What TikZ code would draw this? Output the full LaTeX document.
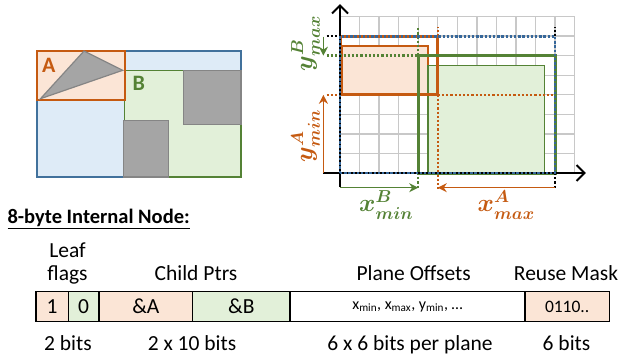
\documentclass[tikz,border=0pt]{standalone}
\usepackage{fontspec}
\setmainfont{Carlito}
\usetikzlibrary{arrows.meta}
\definecolor{ofill}{HTML}{FBE5D6}
\definecolor{oline}{HTML}{C55A11}
\definecolor{gfill}{HTML}{E2F0D9}
\definecolor{gline}{HTML}{548235}
\definecolor{bfill}{HTML}{DEEBF7}
\definecolor{bline}{HTML}{41719C}
\definecolor{bdot}{HTML}{36679A}
\definecolor{gryfill}{HTML}{A5A5A5}
\definecolor{gryline}{HTML}{858585}
\definecolor{gridc}{HTML}{C8C8C8}
\newcommand\fsz[1]{\fontsize{#1}{#1}\selectfont}
\tikzset{
  cell/.style={draw=black, line width=1.3pt, minimum height=30pt, inner sep=0pt, outer sep=0pt, anchor=north west, font=\fsz{21.5}},
  lbl/.style={anchor=base, inner sep=0pt, font=\fsz{21.5}},
  mlbl/.style={inner sep=0pt, font=\fsz{23}\boldmath},
  dotl/.style={line width=2.5pt, dash pattern=on 2.2pt off 2pt},
  carrow/.style={line width=1.6pt, -{Stealth[length=9pt,width=9pt]}},
  axis/.style={line width=2pt, -{Straight Barb[length=8pt,width=16pt,line width=2pt]}}
}
\begin{document}
\begin{tikzpicture}[x=1pt,y=-1pt]
\useasboundingbox (0,0) rectangle (620,358);
% ---------- left panel ----------
\filldraw[fill=bfill, draw=bline, line width=1.4pt] (37,51) rectangle (241,177);
\filldraw[fill=gfill, draw=gline, line width=1.4pt] (124.7,70.7) rectangle (241,177);
\filldraw[fill=gryfill, draw=gryline, line width=1.4pt] (183.3,70.7) rectangle (241,124.3);
\filldraw[fill=gryfill, draw=gryline, line width=1.4pt] (123.5,120.3) rectangle (168.7,177);
\filldraw[fill=ofill, draw=oline, line width=2.2pt] (37,51) rectangle (124.7,99.7);
\filldraw[fill=gryfill, draw=gryline, line width=1.2pt] (84,51) -- (122.7,70.3) -- (40.5,98.7) -- cycle;
\node[inner sep=0pt, font=\fsz{22}\bfseries, text=oline] (labA) at (48.8,65) {A};
\node[inner sep=0pt, font=\fsz{22}\bfseries, text=gline] (labB) at (138.8,83.3) {B};
% ---------- right panel ----------
\begin{scope}[shift={(340pt,-173pt)}, x=19.55pt, y=19.55pt]
  \draw[gridc, line width=1.4pt, step=1] (0,0) grid (12,8);
  \filldraw[fill=ofill, draw=oline, line width=1.2pt] (0.1,4) rectangle (4.5,6.5);
  \filldraw[fill=gfill, draw=gline, line width=1.2pt] (4.5,0) rectangle (10.45,5.5);
  \draw[oline, line width=3pt] (0,4) rectangle (5,7);
  \draw[gline, line width=3pt] (4,0) rectangle (11,6);
  % dotted guides
  \draw[dotl, black] (-0.68,7) -- (0,7);
  \draw[dotl, black] (11,7) -- (11,7.45);
  \draw[dotl, black] (11,0) -- (11,-0.78);
  \draw[dotl, gline] (-0.68,6) -- (4,6);
  \draw[dotl, gline] (4,6) -- (4,7.45);
  \draw[dotl, gline] (4,0) -- (4,-0.8);
  \draw[dotl, oline] (-0.68,4) -- (0,4);
  \draw[dotl, oline] (5,4) -- (11,4);
  \draw[dotl, oline] (5,7) -- (5,7.45);
  \draw[dotl, oline] (5,4) -- (5,-0.8);
  % axes
  \coordinate (xs) at (-0.87,0);
  \coordinate (xe) at (12.58,0);
  \coordinate (ys) at (0,-0.72);
  \coordinate (ye) at (0,8.64);
  \draw[axis] (xs) -- (xe);
  \draw[axis] (ys) -- (ye);
  \draw[bdot, line width=2.8pt, dash pattern=on 2.4pt off 1.8pt] (0,0) rectangle (11,7);
  % arrows
  \coordinate (a1s) at (0,-0.75);  \coordinate (a1e) at (4,-0.75);
  \coordinate (a2s) at (11,-0.75); \coordinate (a2e) at (5,-0.75);
  \coordinate (a3s) at (-0.85,6.97); \coordinate (a3e) at (-0.85,6);
  \coordinate (a4s) at (-0.85,0); \coordinate (a4e) at (-0.85,4);
  \draw[carrow, gline] (a1s) -- (a1e);
  \draw[carrow, oline] (a2s) -- (a2e);
  \draw[carrow, gline] (a3s) -- (a3e);
  \draw[carrow, oline] (a4s) -- (a4e);
\end{scope}
\node[mlbl, text=gline, anchor=base west] (xminB) at (359,211.7) {$x^{B}_{min}$};
\node[mlbl, text=oline, anchor=base west] (xmaxA) at (477.5,211.7) {$x^{A}_{max}$};
\node[mlbl, text=gline, rotate=90] (ymaxB) at (305.5,43.7) {$y^{B}_{max}$};
\node[mlbl, text=oline, rotate=90] (yminA) at (305.5,136) {$y^{A}_{min}$};
% ---------- bottom: node layout ----------
\node[anchor=base west, inner sep=0pt, font=\fsz{20.5}\bfseries] (head) at (7.3,223.3) {\underline{8-byte Internal Node:}};
\node[cell, fill=ofill, minimum width=32.3pt] (c1) at (36,291.7) {1};
\node[cell, fill=gfill, minimum width=30.7pt] (c2) at (68.3,291.7) {0};
\node[cell, fill=ofill, minimum width=93.7pt] (c3) at (99,291.7) {\&A};
\node[cell, fill=gfill, minimum width=97.3pt] (c4) at (192.7,291.7) {\&B};
\node[cell, fill=white, minimum width=235pt, font=\fsz{16}] (c5) at (290,291.7) {x\textsubscript{min}, x\textsubscript{max}, y\textsubscript{min}, …};
\node[cell, fill=ofill, minimum width=84.3pt, font=\fsz{17.5}] (c6) at (525,291.7) {0110..};
\node[lbl] (leaf) at (67.5,257.3) {Leaf};
\node[lbl] (flags) at (67.5,280.5) {flags};
\node[lbl] (child) at (196,280.5) {Child Ptrs};
\node[lbl] (plane) at (413.7,280.5) {Plane Offsets};
\node[lbl] (reuse) at (566,280.5) {Reuse Mask};
\node[lbl] (b1) at (68,350) {2 bits};
\node[lbl] (b2) at (192,350) {2 x 10 bits};
\node[lbl] (b3) at (410,350) {6 x 6 bits per plane};
\node[lbl] (b4) at (566.5,350) {6 bits};
\end{tikzpicture}
\end{document}
